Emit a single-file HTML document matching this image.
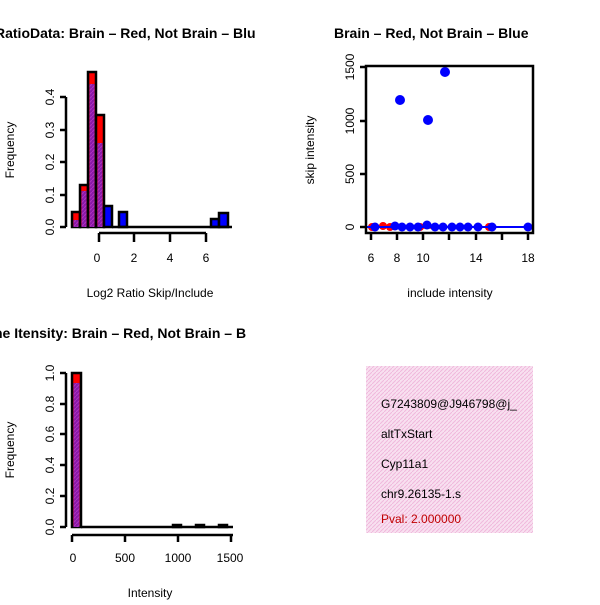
<!DOCTYPE html><html><head><style>body{margin:0;background:#fff}svg{font-family:"Liberation Sans",sans-serif}</style></head><body>
<svg width="600" height="600" xmlns="http://www.w3.org/2000/svg">
<defs>
<pattern id="pp" width="4" height="4" patternUnits="userSpaceOnUse"><rect width="4" height="4" fill="#8a1aa8"/><path d="M0 4L4 0" stroke="#b030c0" stroke-width="1"/></pattern>
<pattern id="pk" width="4" height="4" patternUnits="userSpaceOnUse"><rect width="4" height="4" fill="#f8e0f0"/><path d="M0 4L4 0" stroke="#f0b8dc" stroke-width="1"/></pattern>
</defs>
<g font-weight="bold" font-size="14"><text x="-5" y="38">RatioData: Brain – Red, Not Brain – Blu</text>
<text x="334" y="38">Brain – Red, Not Brain – Blue</text>
<text x="-6" y="338">ne Itensity: Brain – Red, Not Brain – B</text></g>
<!-- panel 1 -->
<g stroke="#000" stroke-width="2.5">
<rect x="72" y="212" width="8" height="15" fill="red"/><rect x="73.5" y="220" width="5" height="7" fill="url(#pp)" stroke="none"/>
<rect x="80" y="185" width="8" height="42" fill="red"/><rect x="81.5" y="191" width="5" height="36" fill="url(#pp)" stroke="none"/>
<rect x="88" y="72" width="8" height="155" fill="red"/><rect x="89.5" y="84" width="5" height="143" fill="url(#pp)" stroke="none"/>
<rect x="96" y="115" width="8" height="112" fill="red"/><rect x="97.5" y="143" width="5" height="84" fill="url(#pp)" stroke="none"/>
<rect x="104" y="206" width="8" height="21" fill="blue"/>
<rect x="119" y="212" width="8" height="15" fill="blue"/>
<rect x="211" y="219" width="8" height="8" fill="blue"/>
<rect x="219" y="213" width="9" height="14" fill="blue"/>
<line x1="112" y1="227" x2="232" y2="227"/>
<line x1="66" y1="97" x2="66" y2="227"/>
<path d="M60 97H66M60 130H66M60 162H66M60 195H66M60 227H66" fill="none"/>
<line x1="99" y1="233" x2="206" y2="233"/>
<path d="M99 233V242M134 233V242M170 233V242M206 233V242" fill="none"/>
</g>
<g font-size="12" text-anchor="middle">
<g transform="rotate(-90)"><text x="-227" y="54">0.0</text><text x="-195" y="54">0.1</text><text x="-162" y="54">0.2</text><text x="-130" y="54">0.3</text><text x="-97" y="54">0.4</text><text x="-150" y="14">Frequency</text>
<text x="-227" y="354">0</text><text x="-174" y="354">500</text><text x="-121" y="354">1000</text><text x="-67" y="354">1500</text><text x="-150" y="314">skip intensity</text>
<text x="-527" y="54">0.0</text><text x="-496" y="54">0.2</text><text x="-465" y="54">0.4</text><text x="-434" y="54">0.6</text><text x="-404" y="54">0.8</text><text x="-373" y="54">1.0</text><text x="-450" y="14">Frequency</text></g>
<text x="97" y="262">0</text><text x="134" y="262">2</text><text x="170" y="262">4</text><text x="206" y="262">6</text>
<text x="150" y="297">Log2 Ratio Skip/Include</text>
<text x="371" y="262">6</text><text x="397" y="262">8</text><text x="423" y="262">10</text><text x="476" y="262">14</text><text x="528" y="262">18</text>
<text x="450" y="297">include intensity</text>
<text x="73" y="562">0</text><text x="125" y="562">500</text><text x="178" y="562">1000</text><text x="230" y="562">1500</text>
<text x="150" y="597">Intensity</text>
</g>
<!-- panel 2 -->
<g fill="red"><circle cx="372" cy="227" r="4"/><circle cx="383" cy="226" r="4"/><circle cx="390" cy="227" r="4"/><circle cx="420" cy="227" r="4"/><circle cx="489" cy="227" r="4"/></g>
<line x1="410" y1="228" x2="443" y2="228" stroke="red" stroke-width="1.5"/>
<line x1="366" y1="227" x2="533" y2="227" stroke="blue" stroke-width="2"/>
<g fill="blue"><circle cx="400" cy="100" r="5"/><circle cx="428" cy="120" r="5"/><circle cx="445" cy="72" r="5"/>
<circle cx="375" cy="227" r="4.5"/><circle cx="395" cy="226" r="4.5"/><circle cx="402" cy="227" r="4.5"/><circle cx="410" cy="227" r="4.5"/><circle cx="418" cy="227" r="4.5"/><circle cx="427" cy="225" r="4.5"/><circle cx="435" cy="227" r="4.5"/><circle cx="443" cy="227" r="4.5"/><circle cx="452" cy="227" r="4.5"/><circle cx="460" cy="227" r="4.5"/><circle cx="468" cy="227" r="4.5"/><circle cx="478" cy="227" r="4.5"/><circle cx="492" cy="227" r="4.5"/><circle cx="528" cy="227" r="4.5"/></g>
<g stroke="#000" stroke-width="2.5" fill="none">
<rect x="366" y="66" width="167" height="167"/>
<path d="M360 227H366M360 174H366M360 121H366M360 67H366"/>
<path d="M371 233V240M397 233V240M423 233V240M449 233V240M476 233V240M502 233V240M528 233V240"/>
</g>
<!-- panel 3 -->
<g stroke="#000" stroke-width="2.5">
<rect x="72" y="373" width="9" height="154" fill="red"/><rect x="73.5" y="383" width="6" height="144" fill="url(#pp)" stroke="none"/>
<line x1="81" y1="527" x2="233" y2="527"/>
<rect x="173" y="525" width="8" height="2"/><rect x="196" y="525" width="8" height="2"/><rect x="219" y="525" width="8" height="2"/>
<line x1="66" y1="373" x2="66" y2="527"/>
<path d="M60 373H66M60 404H66M60 434H66M60 465H66M60 496H66M60 527H66" fill="none"/>
<line x1="72" y1="535" x2="233" y2="535"/>
<path d="M72 535V542M125 535V542M178 535V542M231 535V542" fill="none"/>
</g>
<!-- panel 4 -->
<rect x="366" y="366" width="167" height="167" fill="url(#pk)"/>
<svg x="366" y="366" width="167" height="167"><g font-size="12"><text x="15" y="42">G7243809@J946798@j_</text><text x="15" y="72">altTxStart</text><text x="15" y="102">Cyp11a1</text><text x="15" y="132">chr9.26135-1.s</text><text x="15" y="157" fill="#c00000">Pval: 2.000000</text></g></svg>
</svg>
</body></html>
